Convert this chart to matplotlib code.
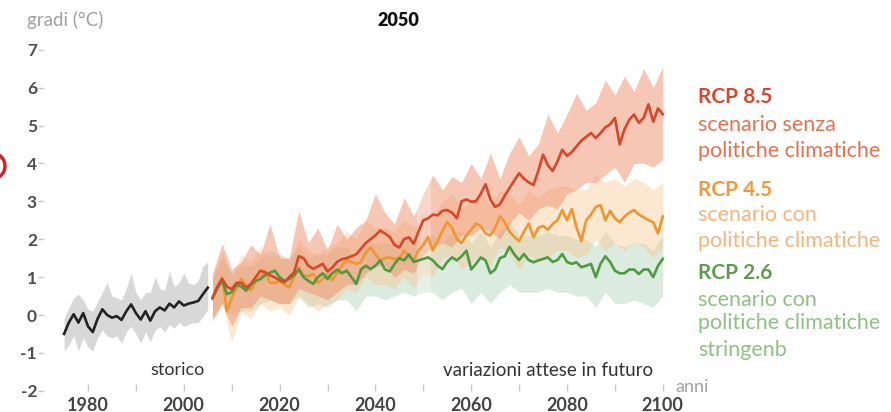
import numpy as np
import matplotlib
matplotlib.use("Agg")
import matplotlib.pyplot as plt
from matplotlib.patches import Arc

plt.rcParams['font.family'] = ['Lato', 'DejaVu Sans']

# ---- data ----
hist_years = list(range(1975, 2006))
hist_mean = [-0.5, -0.2, 0.02, -0.2, 0.05, -0.3, -0.45, -0.1, 0.15, 0.0, -0.07,
             -0.03, -0.13, 0.1, 0.28, 0.05, -0.12, 0.1, -0.15, 0.1, 0.2, 0.12,
             0.3, 0.2, 0.36, 0.25, 0.3, 0.33, 0.37, 0.55, 0.72]
hist_hi = [-0.1, 0.2, 0.45, 0.55, 0.4, 0.15, 0.1, 0.35, 0.6, 0.85, 0.5, 0.45,
           0.4, 0.7, 1.1, 0.6, 0.4, 0.6, 0.6, 1.0, 0.7, 0.65, 1.15, 0.75, 0.85,
           1.1, 0.85, 0.8, 0.9, 1.3, 1.4]
hist_lo = [-0.95, -0.8, -0.55, -0.95, -0.6, -0.85, -0.95, -0.6, -0.4, -0.55,
           -0.6, -0.55, -0.75, -0.45, -0.3, -0.5, -0.75, -0.45, -0.7, -0.4,
           -0.3, -0.45, -0.25, -0.35, -0.2, -0.3, -0.25, -0.2, -0.2, -0.05, 0.15]

proj_years = list(range(2006, 2101))
rcp85 = [0.46, 0.75, 0.95, 0.75, 0.68, 0.85, 0.85, 0.72, 0.82, 1.0,
         1.17, 1.12, 1.05, 0.99, 0.92, 0.86, 1.0, 1.12, 1.55, 1.5,
         1.3, 1.22, 1.28, 1.35, 1.15, 1.25, 1.4, 1.47, 1.5, 1.55,
         1.6, 1.75, 1.9, 2.0, 2.1, 2.23, 2.15, 2.06, 1.85, 1.78,
         2.0, 2.05, 1.88, 2.2, 2.5, 2.55, 2.65, 2.63, 2.75, 2.77,
         2.7, 2.55, 3.0, 3.05, 2.99, 3.0, 3.2, 3.45, 3.05, 2.85,
         2.92, 3.15, 3.35, 3.55, 3.74, 3.6, 3.5, 3.43, 3.8, 4.23,
         3.95, 3.8, 4.05, 4.36, 4.2, 4.3, 4.45, 4.6, 4.7, 4.8,
         4.67, 4.8, 4.95, 5.03, 5.2, 4.5, 4.9, 5.15, 5.29, 5.07,
         5.2, 5.56, 5.1, 5.45, 5.3]
rcp45 = [0.42, 0.7, 0.99, 0.1, 0.45, 0.7, 0.95, 0.8, 0.65, 0.88,
         1.0, 1.17, 0.85, 0.85, 0.9, 0.8, 0.73, 1.0, 1.26, 1.05,
         1.02, 1.08, 0.85, 0.95, 1.05, 0.92, 1.1, 1.3, 1.44, 1.4,
         1.35, 1.4, 1.65, 1.79, 1.6, 1.44, 1.5, 1.52, 1.47, 1.5,
         1.7, 1.55, 1.44, 1.7, 1.85, 2.06, 1.7, 1.95, 2.23, 2.45,
         2.3, 2.0, 1.9, 2.1, 2.25, 2.41, 2.35, 2.15, 2.1, 2.3,
         2.6, 2.45, 2.2, 2.06, 1.95, 2.2, 2.41, 2.05, 2.3, 2.35,
         2.25, 2.4, 2.5, 2.77, 2.5, 2.8, 2.3, 1.95, 2.5, 2.65,
         2.85, 2.9, 2.5, 2.75, 2.55, 2.45, 2.6, 2.7, 2.77, 2.65,
         2.58, 2.5, 2.45, 2.15, 2.6]
rcp26 = [0.45, 0.7, 0.9, 0.55, 0.6, 0.8, 0.75, 0.64, 0.8, 0.9,
         0.95, 1.05, 1.12, 1.17, 1.0, 0.9, 0.95, 1.05, 1.2, 1.0,
         0.9, 0.82, 1.0, 1.1, 0.95, 1.1, 1.2, 1.1, 1.17, 1.0,
         0.82, 1.2, 1.3, 1.21, 1.3, 1.44, 1.2, 1.15, 1.35, 1.5,
         1.44, 1.6, 1.4, 1.44, 1.48, 1.52, 1.44, 1.3, 1.21, 1.4,
         1.52, 1.44, 1.55, 1.7, 1.2, 1.35, 1.52, 1.44, 1.1, 1.2,
         1.5, 1.55, 1.8, 1.6, 1.45, 1.61, 1.45, 1.39, 1.44, 1.48,
         1.52, 1.4, 1.45, 1.61, 1.4, 1.35, 1.39, 1.26, 1.3, 1.35,
         1.0, 1.35, 1.55, 1.4, 1.17, 1.1, 1.1, 1.2, 1.2, 1.08,
         1.2, 1.2, 1.0, 1.3, 1.48]

band_years = list(range(2006, 2101, 2))
rcp85_hi = [1.1, 1.88, 1.2, 1.4, 1.85, 1.6, 2.4, 1.5, 1.5, 2.75, 1.9, 2.3,
            1.7, 2.4, 2.0, 2.3, 2.5, 3.2, 2.7, 2.4, 3.1, 2.6, 3.2, 3.7,
            3.3, 3.65, 3.5, 4.0, 3.6, 4.27, 3.6, 4.27, 4.7, 4.2, 4.5, 5.3,
            4.8, 5.3, 5.85, 5.4, 5.6, 6.2, 5.8, 6.3, 5.9, 6.5, 6.0, 6.55]
rcp85_lo = [-0.1, 0.3, -0.3, 0.2, 0.2, 0.5, 0.4, 0.3, 0.3, 0.7, 0.6, 0.5,
            0.4, 0.6, 0.8, 0.8, 1.1, 1.3, 1.3, 1.0, 1.2, 1.1, 1.6, 1.8,
            1.9, 1.8, 2.1, 2.1, 2.3, 2.2, 2.0, 2.4, 2.7, 2.5, 2.8, 2.9,
            2.8, 3.2, 3.3, 3.5, 3.5, 3.7, 3.9, 3.5, 4.0, 4.0, 3.9, 4.1]
rcp45_hi = [1.0, 1.7, 1.0, 1.6, 1.4, 1.8, 1.5, 1.6, 1.4, 2.0, 1.7, 1.6,
            1.8, 1.9, 2.2, 2.0, 2.5, 2.3, 2.3, 2.2, 2.5, 2.3, 2.7, 2.6,
            3.0, 3.2, 2.8, 3.0, 3.2, 2.9, 3.3, 3.2, 2.9, 3.3, 3.1, 3.3,
            3.4, 3.4, 3.3, 3.3, 3.7, 3.5, 3.6, 3.4, 3.6, 3.5, 3.3, 3.5]
rcp45_lo = [-0.2, 0.3, -0.7, 0.1, -0.1, 0.3, 0.1, 0.2, 0.0, 0.5, 0.3, 0.1,
            0.3, 0.4, 0.7, 0.6, 1.0, 0.8, 0.8, 0.7, 1.0, 0.7, 1.1, 1.0,
            1.5, 1.6, 1.2, 1.4, 1.6, 1.3, 1.8, 1.6, 1.2, 1.6, 1.4, 1.5,
            1.7, 1.7, 1.5, 1.6, 2.0, 1.7, 1.9, 1.7, 1.9, 1.8, 1.5, 1.8]
rcp26_hi = [1.0, 1.5, 1.1, 1.3, 1.3, 1.5, 1.7, 1.6, 1.5, 1.8, 1.5, 1.6,
            1.6, 1.8, 1.8, 1.5, 1.9, 1.9, 1.9, 1.9, 2.1, 2.0, 2.1, 2.1,
            1.9, 2.2, 2.2, 1.9, 2.2, 1.8, 2.2, 2.5, 2.1, 2.1, 2.1, 2.2,
            2.1, 2.1, 2.0, 2.0, 1.8, 2.2, 1.9, 1.8, 1.9, 1.9, 1.7, 2.1]
rcp26_lo = [-0.1, 0.3, 0.0, 0.1, 0.1, 0.3, 0.4, 0.3, 0.3, 0.5, 0.2, 0.3,
            0.2, 0.4, 0.4, 0.1, 0.5, 0.5, 0.4, 0.5, 0.6, 0.5, 0.6, 0.6,
            0.4, 0.6, 0.7, 0.3, 0.6, 0.3, 0.6, 0.8, 0.6, 0.6, 0.6, 0.7,
            0.6, 0.6, 0.5, 0.5, 0.2, 0.6, 0.3, 0.3, 0.4, 0.3, 0.2, 0.5]

y_ticks = list(range(-2, 8))
x_ticks = list(range(1980, 2101, 10))
x_labels = [str(y) if y % 20 == 0 else '' for y in x_ticks]

legend = [
    ('RCP 8.5', ['scenario senza', 'politiche climatiche'], '#d9472b', '#e7714e'),
    ('RCP 4.5', ['scenario con', 'politiche climatiche'], '#f29a3b', '#f6b57c'),
    ('RCP 2.6', ['scenario con', 'politiche climatiche', 'stringenb'], '#5c9e4d', '#8fc182'),
]

# ---- figure ----
W, H = 891, 412
fig = plt.figure(figsize=(W / 100, H / 100), dpi=100)

# pixel layout of the plotting area
x0_px, x_scale = 88, 4.79     # pixel of 1980, px per year
y0_px, y_scale = 315, 37.9    # pixel of 0 deg, px per degree
ax_l, ax_r, ax_t, ax_b = 44, 700, 30, 391
ax = fig.add_axes([ax_l / W, 1 - ax_b / H, (ax_r - ax_l) / W, (ax_b - ax_t) / H])
ax.set_xlim(1980 + (ax_l - x0_px) / x_scale, 1980 + (ax_r - x0_px) / x_scale)
ax.set_ylim((y0_px - ax_b) / y_scale, (y0_px - ax_t) / y_scale)

for s in ax.spines.values():
    s.set_visible(False)

# bands
ax.fill_between(band_years, rcp26_lo, rcp26_hi, color='#b3d3b8', alpha=0.45, lw=0)
ax.fill_between(band_years, rcp45_lo, rcp45_hi, color='#f9c187', alpha=0.38, lw=0)
ax.fill_between(band_years, rcp85_lo, rcp85_hi, color='#f08a66', alpha=0.48, lw=0)
ax.fill_between(hist_years, hist_lo, hist_hi, color='#c4c4c4', alpha=0.65, lw=0)
ax.axvspan(2048.6, 2051.6, color='white', alpha=0.3, lw=0)

# lines
ax.plot(proj_years, rcp45, color='#f0962e', lw=1.9, zorder=3)
ax.plot(proj_years, rcp26, color='#4f9a3f', lw=1.9, zorder=3)
ax.plot(proj_years, rcp85, color='#d9472b', lw=1.9, zorder=4)
ax.plot(hist_years, hist_mean, color='#222222', lw=1.9, zorder=4)

# ticks
ax.set_yticks(y_ticks)
ax.set_yticklabels([str(v) for v in y_ticks])
ax.tick_params(axis='y', direction='out', length=4, width=1, color='#c8c8c8',
               pad=1, labelsize=12.5, labelcolor='#4d4d4d')
ax.set_xticks(x_ticks)
ax.set_xticklabels(x_labels)
ax.tick_params(axis='x', direction='in', length=5, width=1, color='#c8c8c8',
               pad=4, labelsize=13, labelcolor='#444444')
for t in ax.get_yticklabels() + ax.get_xticklabels():
    t.set_fontweight('bold')


def ftext(x, y, s, **kw):
    fig.text(x / W, 1 - y / H, s, va='center', **kw)


ftext(27, 20, 'gradi (°C)', fontsize=13.5, color='#a0a0a0', ha='left')
ftext(398, 21, '2050', fontsize=13, color='#111111', ha='center', fontweight='heavy')
ftext(150, 370, 'storico', fontsize=13, color='#333333', ha='left')
ftext(443, 371, 'variazioni attese in futuro', fontsize=13.5, color='#333333', ha='left')
ftext(675, 387, 'anni', fontsize=13, color='#a0a0a0', ha='left')

# legend texts
ys = [[97, 125, 151], [190, 215, 241], [273, 300, 323, 350]]
for (title, lines, c1, c2), yy in zip(legend, ys):
    ftext(698, yy[0], title, fontsize=15, color=c1, ha='left', fontweight='bold')
    for ln, y in zip(lines, yy[1:]):
        ftext(698, y, ln, fontsize=15.5, color=c2, ha='left')

# partial red circle at the left edge
fig.patches.append(Arc((-0.08, (H - 166) / 100), 0.26, 0.26, transform=fig.dpi_scale_trans,
                       color='#cc2a2a', lw=2.5, figure=fig))

fig.savefig('out.png', dpi=100)
